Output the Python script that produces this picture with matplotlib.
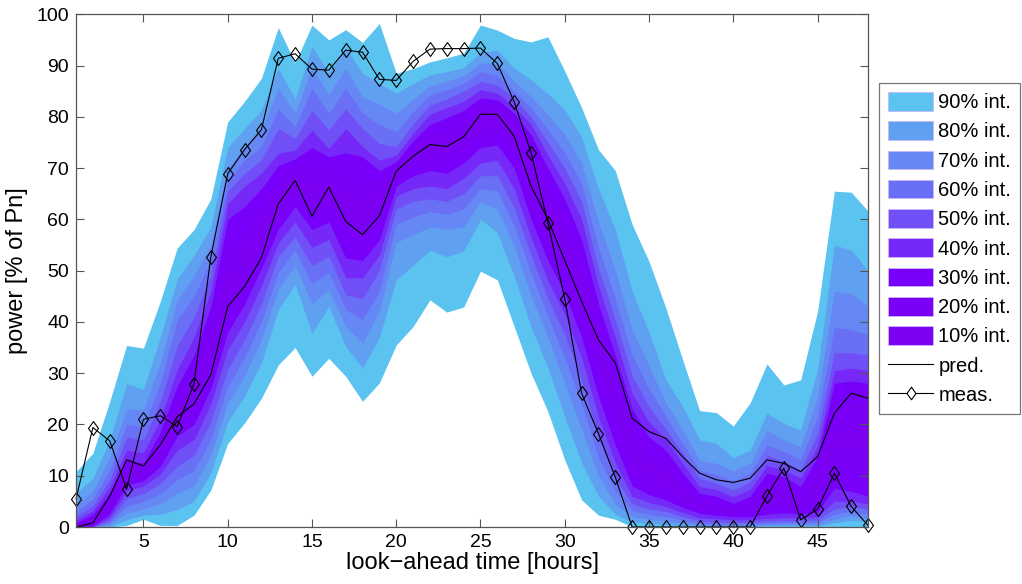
import numpy as np
import matplotlib
matplotlib.use("Agg")
import matplotlib.pyplot as plt
from matplotlib.path import Path
from matplotlib.patches import Patch
from matplotlib.lines import Line2D

plt.rcParams["font.family"] = ["Liberation Sans", "DejaVu Sans"]

# ----------------------------
# data
# ----------------------------
hours = list(range(1, 49))

pred = [0, 0.8, 6, 13.1, 11.9, 16, 21.5, 24, 29.7, 43, 46.9, 52.5, 63, 67.6, 60.6, 66.3,
        59.6, 57, 60.7, 69.4, 72.3, 74.6, 74.2, 76.1, 80.5, 80.5, 76.2, 66.5, 60, 52, 44, 36.5,
        32, 21.2, 18.6, 17.3, 13.7, 10.5, 9.2, 8.7, 9.5, 13.1, 12.4, 10.8, 13.7, 22.2, 26.1, 25.1]

meas = [5.5, 19.4, 16.8, 7.4, 21, 21.7, 19.6, 27.9, 52.7, 68.9, 73.6, 77.5, 91.4, 92.3, 89.3, 89.1,
        93, 92.6, 87.3, 87.1, 90.8, 93.2, 93.3, 93.3, 93.4, 90.4, 82.9, 73, 59.3, 44.5, 26.1, 18.2,
        9.7, 0, 0, 0, 0, 0, 0, 0, 0, 6.05, 11.5, 1.4, 3.5, 10.5, 4, 0.3]

# upper edges of the intervals
hi90 = [10.8, 14.4, 24.5, 35.4, 34.9, 44, 54.4, 58, 64, 79, 83, 87.5, 97.4, 90.5, 97.9, 95,
        97, 94.5, 98.2, 88.5, 89.4, 90.7, 91.5, 92.4, 97.9, 96.9, 95.3, 94.6, 95.6, 88.9, 81.8, 73.6,
        69.5, 59, 51.8, 42.7, 32.6, 22.7, 22.3, 19.7, 24.2, 31.8, 27.7, 28.7, 42, 65.5, 65.3, 61.6]
hi80 = [6.6, 9.5, 17, 28, 26.8, 37, 48.3, 53, 58.5, 74, 77.7, 81.3, 89.4, 83.5, 93.7, 88.5,
        93.4, 88.5, 86.5, 84.6, 86.5, 88.2, 88.8, 89.6, 92.5, 93, 89.5, 87.2, 84.5, 81.4, 76, 66,
        58, 46, 38, 28.7, 23.5, 17, 16.3, 13.5, 15, 22.2, 20.2, 18.9, 30.7, 55, 54, 50]
hi70 = [4.3, 7, 13.5, 23, 22.9, 32, 44.3, 49, 55, 70, 74.2, 77.4, 85.5, 80.7, 89.5, 84.3,
        89.5, 83.9, 82.5, 80.7, 83.5, 86, 87, 88, 90.5, 90.4, 86.9, 84, 80.5, 76.5, 71, 59.5,
        50, 38.5, 31.5, 24.2, 18.9, 13.1, 12.4, 11, 12.4, 18.9, 17, 15.7, 25.4, 46, 45.5, 43]
hi60 = [3, 5.5, 11, 20, 19.6, 28, 40.4, 45, 52, 67.5, 71.6, 74.2, 81.6, 78.1, 85.6, 80.7,
        85.6, 80.7, 78.5, 77.1, 81, 84.2, 85.3, 86.5, 88.8, 88.1, 84.9, 81.8, 77.5, 73, 67, 54.5,
        44.5, 33.5, 27, 21.6, 16.3, 11.1, 10.2, 9, 10.5, 16, 14.7, 13.1, 21.5, 39, 38.5, 37.5]
hi50 = [2, 4.2, 9.2, 17.5, 17, 24.5, 35.3, 41, 49, 65.5, 69, 71.6, 77.7, 75.8, 81.3, 77.4,
        81.6, 77.7, 74.8, 74.2, 78.7, 82.3, 83.5, 85, 86.9, 86.2, 83.6, 80, 75, 70, 63.5, 50.5,
        40.5, 29.5, 23.5, 19.1, 14.4, 9.5, 8.5, 7.2, 8.9, 14, 12.8, 11.1, 18.3, 34, 34, 33.5]
hi40 = [1.3, 3.2, 7.8, 15, 14.5, 21, 30.7, 37, 46, 63, 66.5, 69, 72.9, 73.5, 77.4, 73.8,
        77.7, 74.2, 71.5, 72.5, 76.8, 80.5, 81.8, 83, 85.3, 84.6, 82, 78.5, 72.5, 67, 60, 47,
        37, 26, 20.5, 17.2, 12.4, 7.9, 7.3, 5.9, 7.3, 12, 11.1, 9.5, 15.7, 30.5, 31, 30.5]
hi30 = [0.8, 2.4, 6.6, 13, 12.5, 18.5, 27.4, 33.5, 43, 60, 62.5, 66, 70.5, 71.8, 74, 72.2,
        73, 72.2, 69.5, 71.2, 75.3, 78.5, 79.8, 81.2, 83.7, 83.3, 80.7, 76.5, 70, 64, 56, 43.5,
        33.5, 23, 17.5, 15, 10.5, 6.6, 6, 4.6, 6, 10.5, 9.8, 7.9, 13.7, 28, 28.5, 28]
hi20 = [0.5, 1.8, 5.6, 11.7, 11.5, 16.5, 25, 30.5, 39.5, 54, 58, 63, 67.5, 70, 70.5, 70,
        69, 67.5, 67.5, 70.6, 74.2, 77, 77.5, 79.2, 82.6, 82.3, 79.4, 73, 66, 60, 52, 40,
        30, 19.5, 14.5, 12.5, 8.5, 5.5, 4.8, 3.8, 5, 9, 8.5, 6.5, 12, 24, 24.5, 24]
hi10 = [0.3, 1.3, 4.8, 10.8, 10.8, 15.2, 23, 27.5, 36, 49.5, 54, 60, 65, 68.5, 67, 67.5,
        65, 63, 65, 70, 73.2, 75.8, 75.5, 77.5, 81.5, 81.5, 77.7, 69.5, 62.5, 56, 48.5, 36.5,
        26.5, 16, 12, 10.5, 7, 4.5, 4, 3.2, 4, 7.5, 7, 5.3, 10.5, 19, 20, 19.5]

# lower edges of the intervals
lo10 = [0, 0.5, 4, 10, 10.2, 14, 21, 25, 32.5, 45.5, 50.5, 57, 61.3, 66.5, 64, 64.5,
        61, 59, 62.5, 69.2, 71.5, 73.3, 73, 74.8, 78.5, 79, 75, 66, 59, 52.5, 45, 33,
        23, 13, 9.8, 8.5, 5.8, 3.8, 3.4, 2.7, 3.3, 5.5, 5.5, 4.3, 7, 15, 15.5, 15]
lo20 = [0, 0.3, 3.3, 9.1, 9.6, 13, 19.3, 22.5, 29.5, 41.5, 47, 53.5, 60, 64.5, 61, 62.5,
        57, 55.5, 59, 68, 70.3, 71.8, 71.2, 73.2, 76.5, 77, 73, 63, 55.5, 49, 41, 29.5,
        19.5, 10.5, 8, 7, 4.8, 3.2, 2.9, 2.3, 2.7, 4, 4, 3.4, 5, 11, 11.5, 10.5]
lo30 = [0, 0.2, 2.6, 8.2, 9, 11.8, 17.7, 20, 27, 38, 43.5, 50.5, 58, 62.5, 58, 59.5,
        52.5, 52, 56, 66.5, 68.5, 69.5, 69, 71, 74, 74.5, 70, 60, 52, 45.5, 37, 25.5,
        16, 8, 6.3, 5.3, 3.8, 2.7, 2.3, 2, 2, 2.5, 2.8, 2.5, 3, 7.5, 7, 6]
lo40 = [0, 0, 1.9, 7, 8, 10.3, 15, 17, 24, 34.6, 40, 47, 55.4, 59.5, 54.5, 56.1,
        48.6, 48.6, 53, 64.5, 66, 66.5, 66, 68, 71, 71.5, 66, 56.5, 48, 41.5, 33, 21.5,
        12.5, 6, 4.8, 4, 2.8, 1.8, 1.6, 1.4, 1.4, 1.7, 1.8, 1.8, 2, 5, 5, 4.5]
lo50 = [0, 0, 1.3, 5.5, 6.5, 8.5, 11.8, 14, 20.5, 30.7, 36.5, 43.5, 52.8, 56.5, 51, 52.8,
        45.3, 44.5, 50, 62, 63.5, 64, 63.5, 65, 68.5, 68.5, 62.2, 53, 44.5, 37.5, 28.5, 17.5,
        9.5, 4.5, 3.5, 3, 2, 1.2, 1, 0.9, 0.9, 1.1, 1.2, 1.2, 1.4, 3.5, 4, 3.5]
lo60 = [0, 0, 0.8, 4, 5, 6.5, 9.2, 11, 17, 27.4, 33, 40, 49.6, 54, 47.5, 49.6,
        42.4, 40.4, 46, 59, 60.5, 61.5, 61, 62, 66, 65.5, 58.7, 49.5, 41, 33, 24, 13.5,
        7, 3.2, 2.4, 2, 1.3, 0.7, 0.6, 0.5, 0.6, 0.7, 0.8, 0.8, 0.9, 2.5, 3, 2.5]
lo70 = [0, 0, 0.4, 2.7, 3.5, 4.5, 6.6, 8, 14, 24.1, 29.5, 36.5, 46.3, 51, 43.5, 46.3,
        39.1, 35.9, 42, 55.5, 57, 58.5, 58, 58.5, 63.5, 62, 54.8, 45, 37, 28, 19, 10,
        4.5, 2, 1.5, 1.2, 0.8, 0.4, 0.3, 0.3, 0.3, 0.4, 0.5, 0.5, 0.5, 1.5, 2.2, 1.7]
lo80 = [0, 0, 0.1, 1.4, 2.3, 2.5, 3.4, 5, 10.5, 20.5, 25.5, 32, 42.4, 47.3, 37.8, 43,
        35.2, 31, 37, 48.2, 51, 54, 52.7, 53.8, 60, 57.4, 48.9, 39, 31, 21.5, 12.5, 6,
        2.5, 1, 0.7, 0.5, 0.3, 0.2, 0.1, 0.1, 0.1, 0.2, 0.2, 0.2, 0.2, 0.8, 1.3, 1]
lo90 = [0, 0, 0, 0.3, 1.5, 0.3, 0.3, 2.3, 7.2, 16.3, 20.3, 25.1, 31.6, 35, 29.4, 32.9,
        29.4, 24.5, 28.1, 35.5, 39.1, 44.3, 41.9, 42.9, 49.9, 48.2, 39.1, 30, 22.5, 13.1, 5.3, 2.3,
        1.5, 0, 0, 0, 0, 0, 0, 0, 0, 0, 0, 0, 0, 0, 0, 0]

levels = [90, 80, 70, 60, 50, 40, 30, 20, 10]
lowers = [lo90, lo80, lo70, lo60, lo50, lo40, lo30, lo20, lo10]
uppers = [hi90, hi80, hi70, hi60, hi50, hi40, hi30, hi20, hi10]
colors = ["#5BC3F0", "#60A0F0", "#6688F5", "#6A70F6", "#7050F6",
          "#7628F8", "#7800FA", "#7A00F6", "#7C00F2"]

# ----------------------------
# plot
# ----------------------------
fig = plt.figure(figsize=(10.22, 5.84), dpi=100)
ax = fig.add_axes([0.0744, 0.0976, 0.775, 0.878])

handles = []
for lev, lo, hi, c in zip(levels, lowers, uppers, colors):
    ax.fill_between(hours, lo, hi, color=c, lw=0)
    handles.append(Patch(facecolor=c, edgecolor="#c9b8f5", lw=0.6, label=f"{lev}% int."))

ax.plot(hours, pred, color="black", lw=0.8)

# MATLAB-like diamond (a bit narrower than tall)
diamond = Path([(0, 1), (0.72, 0), (0, -1), (-0.72, 0), (0, 1)],
               [Path.MOVETO, Path.LINETO, Path.LINETO, Path.LINETO, Path.CLOSEPOLY])
ax.plot(hours, meas, color="black", lw=0.8, marker=diamond, markersize=10,
        markerfacecolor="none", markeredgecolor="black", markeredgewidth=0.8, clip_on=False)

handles.append(Line2D([], [], color="black", lw=0.8, label="pred."))
handles.append(Line2D([], [], color="black", lw=0.8, marker=diamond, markersize=9,
                      markerfacecolor="white", markeredgewidth=0.8, label="meas."))

ax.set_xlim(1, 48)
ax.set_ylim(0, 100)
ax.set_xticks(range(5, 48, 5))
ax.set_yticks(range(0, 101, 10))
ax.tick_params(direction="in", length=6, width=0.8, color="#555555",
               labelsize=14, top=True, right=True, pad=5)
for sp in ax.spines.values():
    sp.set_color("#555555")
    sp.set_linewidth(0.9)

ax.set_xlabel("look\u2212ahead time [hours]", fontsize=17, labelpad=1)
ax.set_ylabel("power [% of Pn]", fontsize=17, labelpad=6)

leg = fig.legend(handles=handles, loc="upper left", bbox_to_anchor=(0.86, 0.858),
                 fontsize=14.5, frameon=True, fancybox=False, edgecolor="#555555",
                 handlelength=2.25, handleheight=1.05, labelspacing=0.45,
                 handletextpad=0.25, borderpad=0.45, borderaxespad=0)
leg.get_frame().set_linewidth(0.9)

fig.savefig("out.png", dpi=100)
